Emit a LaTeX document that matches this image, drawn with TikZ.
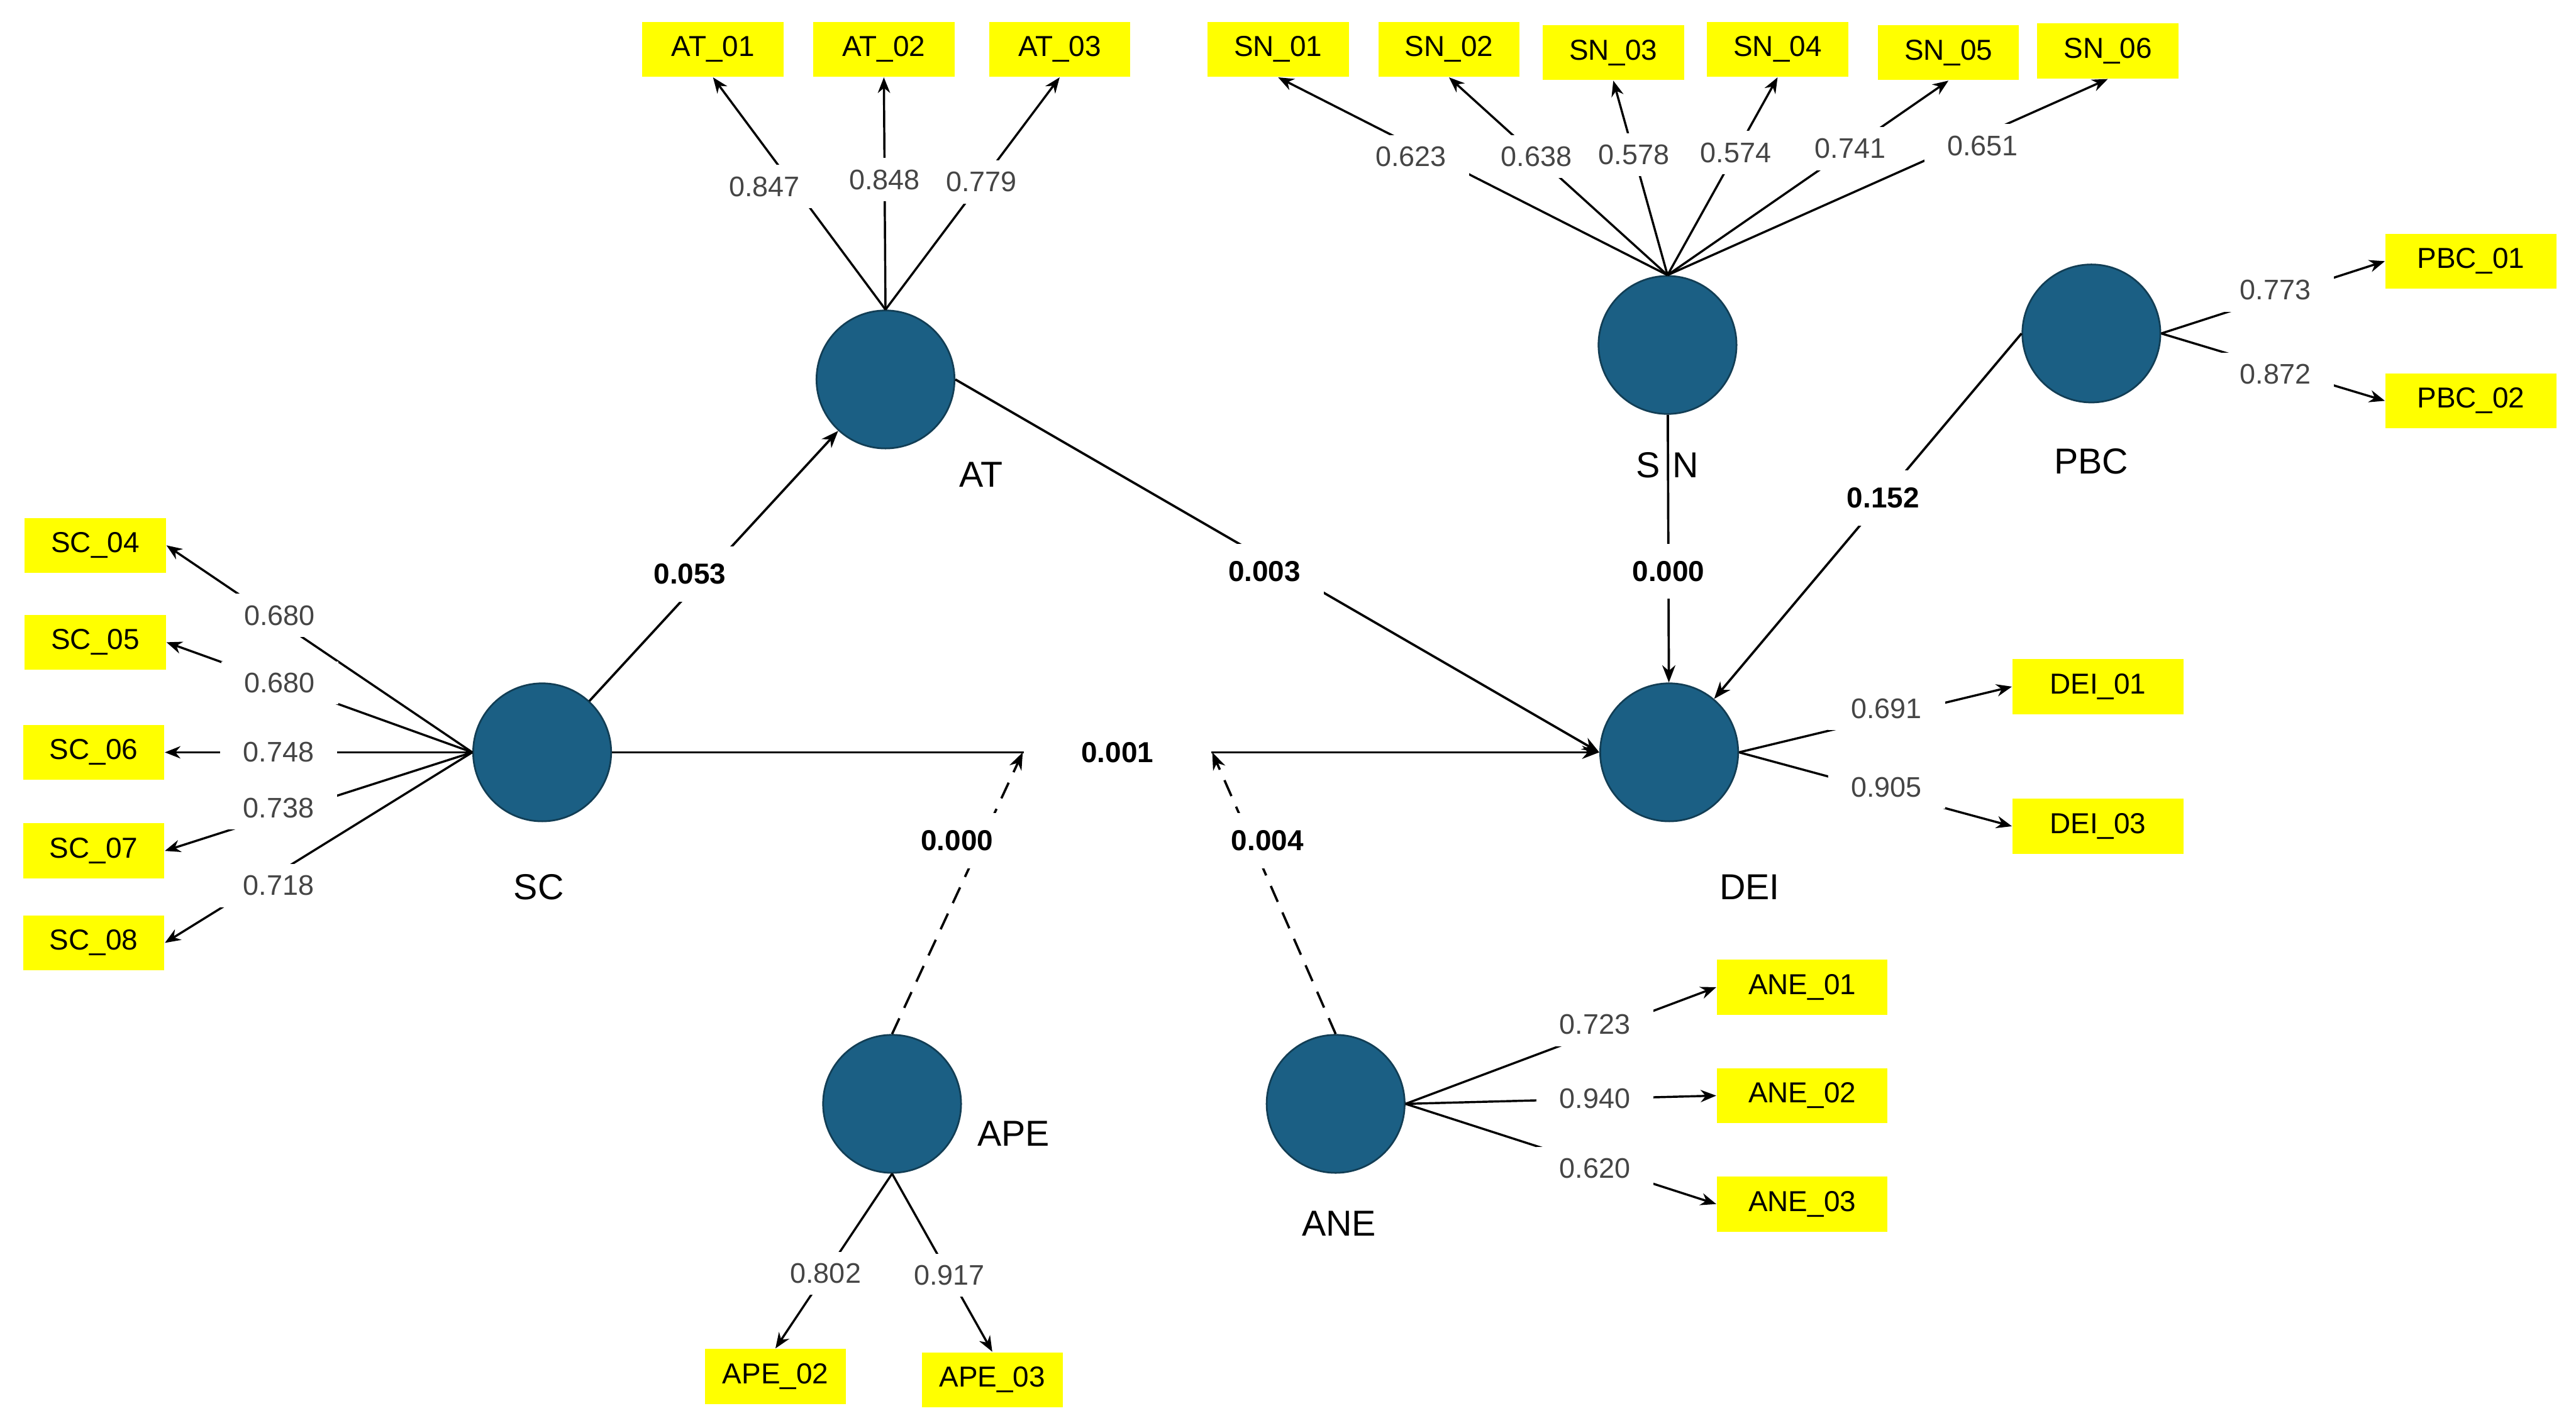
\documentclass[tikz,border=0pt]{standalone}
\usepackage{fontspec}
\setmainfont{Liberation Sans}
\usepackage{xcolor}
\usetikzlibrary{arrows.meta, positioning, shapes.geometric, calc}

\definecolor{latentfill}{HTML}{1B5F84}
\definecolor{latentline}{HTML}{123E55}
\definecolor{itemfill}{HTML}{FFFF00}
\definecolor{loadtext}{HTML}{454545}

\tikzset{
  latent/.style={circle, draw=latentline, fill=latentfill, line width=0.6pt, minimum size=1.68cm, inner sep=0pt},
  item/.style={fill=itemfill, minimum width=1.72cm, minimum height=0.67cm, inner sep=0pt, font=\fontsize{10}{12}\selectfont},
  itemwide/.style={item, minimum width=2.08cm},
  lv/.style={font=\fontsize{12.5}{14}\selectfont},
  load/.style={fill=white, inner xsep=8pt, inner ysep=4pt, text=loadtext, font=\fontsize{9.8}{11}\selectfont},
  coef/.style={fill=white, inner xsep=8pt, inner ysep=6pt, font=\bfseries\fontsize{10}{12}\selectfont},
  ld/.style={-{Stealth[length=1.9mm, width=1.5mm]}, line width=0.75pt},
  path/.style={-{Stealth[length=2.1mm, width=1.6mm]}, line width=0.8pt}
}

\begin{document}
\begin{tikzpicture}[x=0.02cm, y=-0.02cm]
        \useasboundingbox (0,0) rectangle (1568,866);

        % latent variables
        \node[latent] (SC) at (330,458) {}; \node[latent] (AT) at (539,231) {}; \node[latent] (SN) at (1015,210) {}; \node[latent] (PBC) at (1273,203) {};
        \node[latent] (DEI) at (1016,458) {}; \node[latent] (APE) at (543,672) {}; \node[latent] (ANE) at (813,672) {};
        \node[lv] (SCname) at (328,540) {SC}; \node[lv] (ATname) at (597,289) {AT}; \node[lv] (SNname) at (1015,283) {S\hspace{0.35em}N}; \node[lv] (PBCname) at (1273,281) {PBC};
        \node[lv] (DEIname) at (1065,540) {DEI}; \node[lv] (APEname) at (617,690) {APE}; \node[lv] (ANEname) at (815,745) {ANE};

        % indicators
        \node[item] (AT01) at (434,30) {AT\_01}; \node[item] (AT02) at (538,30) {AT\_02}; \node[item] (AT03) at (645,30) {AT\_03};
        \node[item] (SN01) at (778,30) {SN\_01}; \node[item] (SN02) at (882,30) {SN\_02}; \node[item] (SN03) at (982,32) {SN\_03};
        \node[item] (SN04) at (1082,30) {SN\_04}; \node[item] (SN05) at (1186,32) {SN\_05}; \node[item] (SN06) at (1283,31) {SN\_06};
        \node[itemwide] (PBC01) at (1504,159) {PBC\_01}; \node[itemwide] (PBC02) at (1504,244) {PBC\_02};
        \node[item] (SC04) at (58,332) {SC\_04}; \node[item] (SC05) at (58,391) {SC\_05}; \node[item] (SC06) at (57,458) {SC\_06};
        \node[item] (SC07) at (57,518) {SC\_07}; \node[item] (SC08) at (57,574) {SC\_08};
        \node[itemwide] (DEI01) at (1277,418) {DEI\_01}; \node[itemwide] (DEI03) at (1277,503) {DEI\_03};
        \node[itemwide] (ANE01) at (1097,601) {ANE\_01}; \node[itemwide] (ANE02) at (1097,667) {ANE\_02}; \node[itemwide] (ANE03) at (1097,733) {ANE\_03};
        \node[item] (APE02) at (472,838) {APE\_02}; \node[item] (APE03) at (604,840) {APE\_03};

        % loadings
        \draw[ld] (AT.north) -- node[load, pos=0.53, xshift=-0.36cm] {0.847} (AT01.south); \draw[ld] (AT.north) -- node[load, pos=0.56] {0.848} (AT02.south); \draw[ld] (AT.north) -- node[load, pos=0.55] {0.779} (AT03.south);
        \draw[ld] (SN.north) -- node[load, pos=0.60, xshift=-0.28cm] {0.623} (SN01.south); \draw[ld] (SN.north) -- node[load, pos=0.60] {0.638} (SN02.south); \draw[ld] (SN.north) -- node[load, pos=0.62] {0.578} (SN03.south);
        \draw[ld] (SN.north) -- node[load, pos=0.62] {0.574} (SN04.south); \draw[ld] (SN.north) -- node[load, pos=0.65] {0.741} (SN05.south); \draw[ld] (SN.north) -- node[load, pos=0.66, xshift=0.3cm] {0.651} (SN06.south);
        \draw[ld] (PBC.east) -- node[load, pos=0.51, yshift=0.08cm] {0.773} (PBC01.west); \draw[ld] (PBC.east) -- node[load, pos=0.51, yshift=-0.08cm] {0.872} (PBC02.west);
        \draw[ld] (SC.west) -- node[load, pos=0.63, yshift=0.08cm] {0.680} (SC04.east); \draw[ld] (SC.west) -- node[load, pos=0.63] {0.680} (SC05.east); \draw[ld] (SC.west) -- node[load, pos=0.63] {0.748} (SC06.east);
        \draw[ld] (SC.west) -- node[load, pos=0.63, yshift=0.08cm] {0.738} (SC07.east); \draw[ld] (SC.west) -- node[load, pos=0.63, yshift=-0.16cm] {0.718} (SC08.east);
        \draw[ld] (DEI.east) -- node[load, pos=0.54, yshift=0.1cm] {0.691} (DEI01.west); \draw[ld] (DEI.east) -- node[load, pos=0.54, yshift=0.06cm] {0.905} (DEI03.west);
        \draw[ld] (ANE.east) -- node[load, pos=0.61, yshift=0.1cm] {0.723} (ANE01.west); \draw[ld] (ANE.east) -- node[load, pos=0.61] {0.940} (ANE02.west); \draw[ld] (ANE.east) -- node[load, pos=0.61, yshift=-0.04cm] {0.620} (ANE03.west);
        \draw[ld] (APE.south) -- node[load, pos=0.57] {0.802} (APE02.north); \draw[ld] (APE.south) -- node[load, pos=0.57] {0.917} (APE03.north);

        % structural paths
        \draw[path] (SC) -- node[coef, pos=0.47, xshift=-0.2cm] {0.053} (AT);
        \draw[path] (AT.east) -- node[coef, pos=0.48, yshift=-0.16cm] {0.003} (DEI.west);
        \draw[path] (SN) -- node[coef, pos=0.585] {0.000} (DEI);
        \draw[path] (PBC.west) -- node[coef, pos=0.45] {0.152} (DEI);
        \draw[path] (SC) -- node[coef, pos=0.512, inner xsep=0.7cm] (mod) {0.001} (DEI);
        \draw[path, dash pattern=on 6pt off 4pt] (APE.north) -- node[coef, pos=0.686, xshift=-0.3cm, solid] {0.000} (mod.west);
        \draw[path, dash pattern=on 6pt off 4pt] (ANE.north) -- node[coef, pos=0.686, xshift=0.2cm, solid] {0.004} (mod.east);
    \end{tikzpicture}
\end{document}
